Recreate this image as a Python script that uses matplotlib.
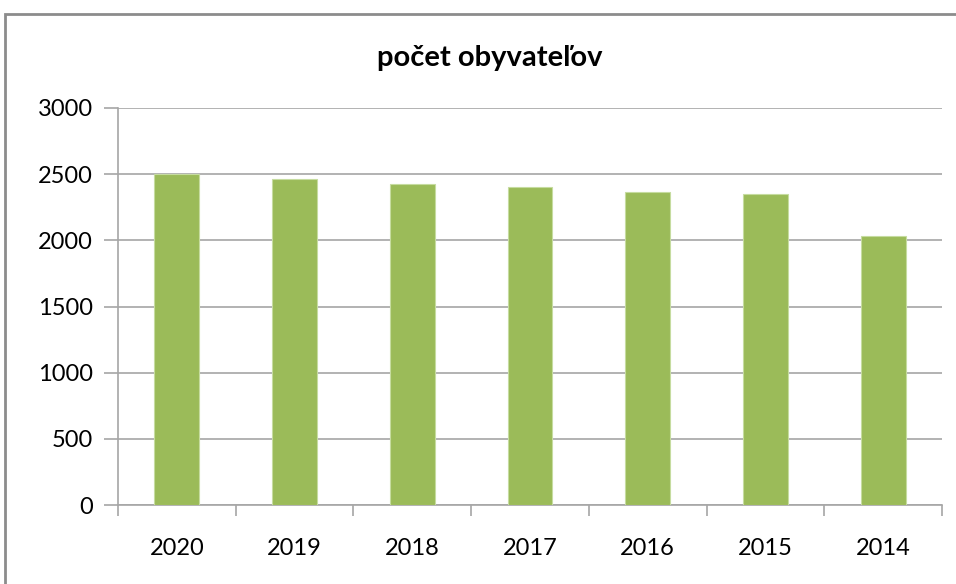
import matplotlib
matplotlib.use("Agg")
import matplotlib.pyplot as plt
from matplotlib.patches import Rectangle

# data
years = ["2020", "2019", "2018", "2017", "2016", "2015", "2014"]
population = [2500, 2467, 2429, 2406, 2368, 2347, 2031]
yticks = [0, 500, 1000, 1500, 2000, 2500, 3000]

plt.rcParams['font.family'] = ['Lato', 'DejaVu Sans']

fig = plt.figure(figsize=(9.56, 5.84), dpi=100)
W, H = 956.0, 584.0

# outer chart border (cut off on right and bottom)
fig.patches.append(Rectangle((5/W, -0.05), 1.1, (584-14)/H + 0.05,
                             transform=fig.transFigure, fill=False,
                             edgecolor='#8c8c8c', lw=2))

ax = fig.add_axes([118/W, (H-505)/H, (942-118)/W, (505-108)/H])
x = range(len(years))
ax.bar(x, population, width=0.38, color='#9bbb59', edgecolor='#c6dca0', lw=0.8, zorder=3)

ax.set_xlim(-0.5, len(years) - 0.5)
ax.set_ylim(0, 3000)
ax.set_yticks(yticks)
ax.set_yticklabels([str(v) for v in yticks], fontsize=17)
ax.yaxis.grid(True, color='#a6a6a6', lw=1.2, zorder=0)
ax.set_xticks(x)
ax.set_xticklabels(years, fontsize=17)
ax.set_xticks([i - 0.5 for i in range(len(years) + 1)], minor=True)
ax.tick_params(axis='x', which='major', length=0, pad=24)
ax.tick_params(axis='x', which='minor', length=8, color='#a6a6a6', width=1.2)
ax.tick_params(axis='y', length=10, color='#a6a6a6', width=1.2, pad=8)

for s in ['top', 'right']:
    ax.spines[s].set_visible(False)
for s in ['left', 'bottom']:
    ax.spines[s].set_color('#a6a6a6')
    ax.spines[s].set_linewidth(1.2)

fig.text(490/W, 1 - 58/H, "počet obyvateľov", ha='center', va='center',
         fontsize=21, fontweight='bold')

fig.savefig("out.png", dpi=100)
